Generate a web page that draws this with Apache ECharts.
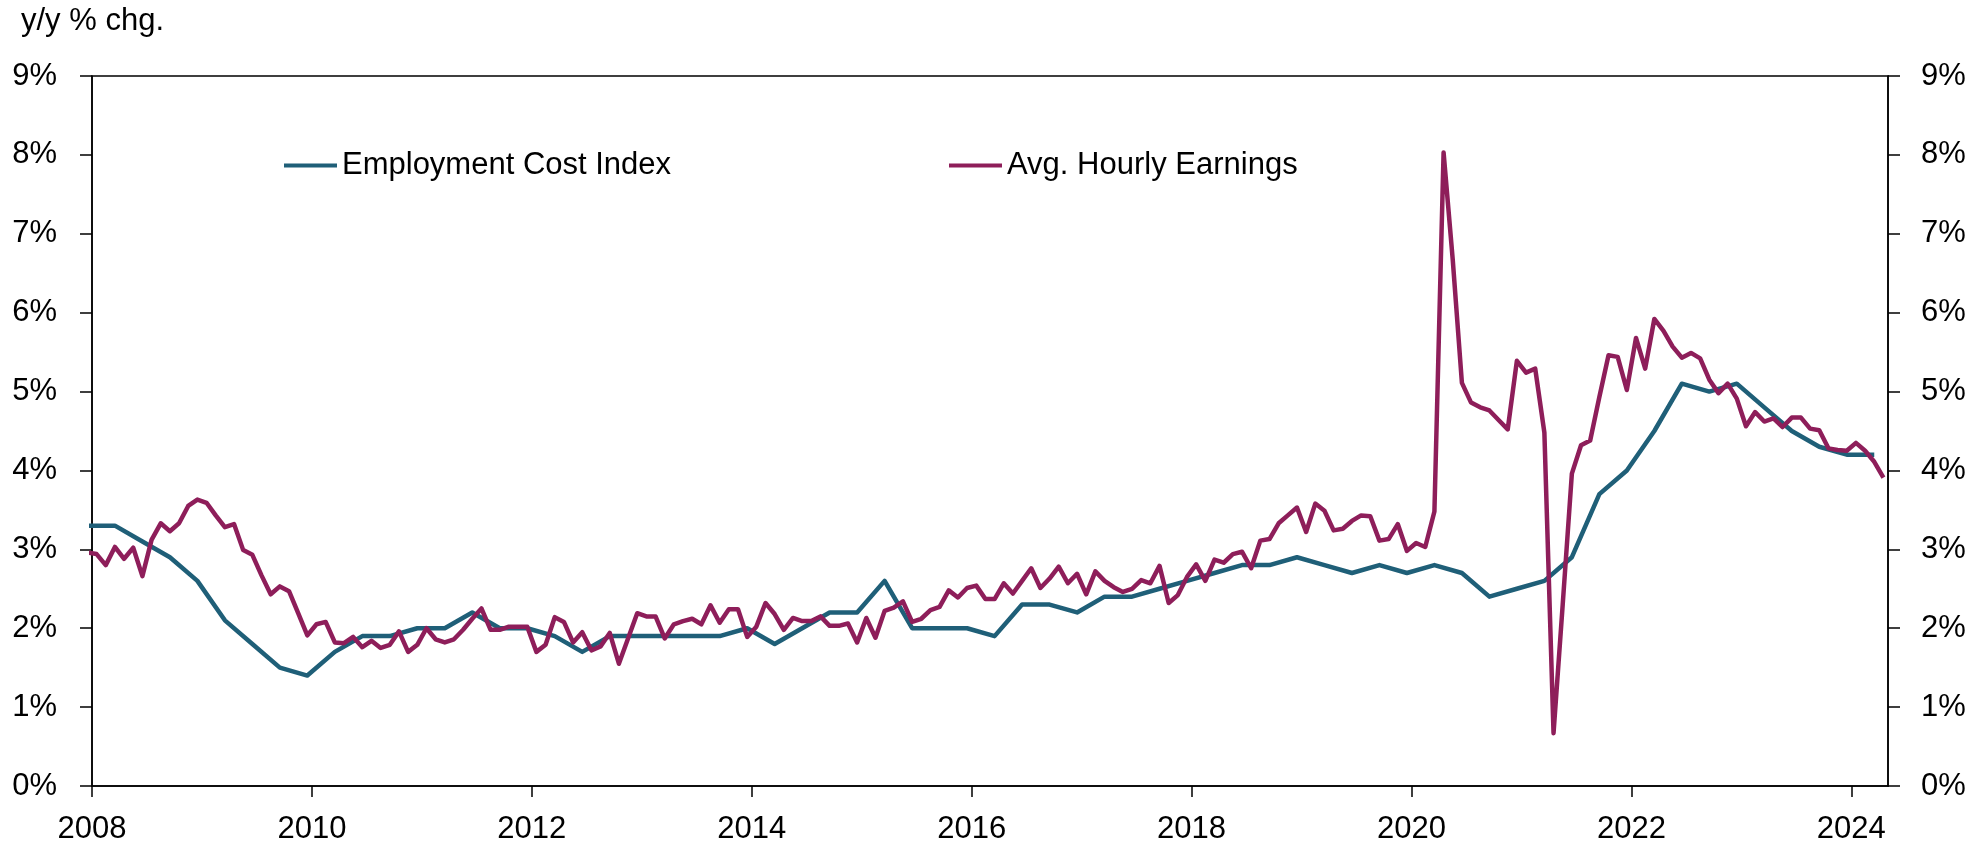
<!DOCTYPE html>
<html>
<head>
<meta charset="utf-8">
<script src="https://cdn.jsdelivr.net/npm/echarts@6/dist/echarts.min.js"></script>
<style>
  html, body { margin: 0; padding: 0; background: #ffffff; }
  #chart { width: 1983px; height: 849px; }
</style>
</head>
<body>
<div id="chart"></div>
<script>
// Avg. Hourly Earnings, y/y % chg., monthly from Dec 2007 to Apr 2024
const aheValues = [
  2.96,
  2.94, 2.80, 3.03, 2.88, 3.02, 2.66, 3.12, 3.33, 3.23, 3.33, 3.55, 3.63,
  3.59, 3.43, 3.28, 3.32, 2.99, 2.93, 2.67, 2.43, 2.53, 2.47, 2.19, 1.91,
  2.05, 2.08, 1.82, 1.81, 1.89, 1.76, 1.84, 1.75, 1.79, 1.96, 1.70, 1.79,
  2.00, 1.86, 1.82, 1.86, 1.98, 2.12, 2.25, 1.98, 1.98, 2.02, 2.02, 2.02,
  1.70, 1.79, 2.14, 2.08, 1.82, 1.95, 1.72, 1.77, 1.94, 1.55, 1.87, 2.19,
  2.15, 2.15, 1.87, 2.05, 2.09, 2.12, 2.05, 2.29, 2.07, 2.24, 2.24, 1.89,
  2.02, 2.32, 2.18, 1.98, 2.13, 2.09, 2.09, 2.15, 2.03, 2.03, 2.06, 1.82,
  2.13, 1.88, 2.22, 2.26, 2.34, 2.08, 2.12, 2.23, 2.27, 2.48, 2.39, 2.51,
  2.54, 2.37, 2.37, 2.57, 2.44, 2.60, 2.76, 2.51, 2.63, 2.78, 2.57, 2.69,
  2.43, 2.72, 2.60, 2.52, 2.46, 2.50, 2.61, 2.57, 2.79, 2.32, 2.42, 2.65,
  2.81, 2.60, 2.87, 2.83, 2.94, 2.97, 2.76, 3.11, 3.13, 3.33, 3.43, 3.53,
  3.22, 3.58, 3.49, 3.24, 3.26, 3.36, 3.43, 3.42, 3.11, 3.13, 3.32, 2.98,
  3.08, 3.03, 3.48, 8.03, 6.67, 5.11, 4.86, 4.80, 4.76, 4.64, 4.52, 5.39,
  5.24, 5.29, 4.48, 0.67, 2.30, 3.96, 4.32, 4.38, 4.93, 5.46, 5.44, 5.02,
  5.68, 5.29, 5.92, 5.77, 5.57, 5.43, 5.49, 5.42, 5.15, 4.98, 5.10, 4.91,
  4.56, 4.74, 4.62, 4.66, 4.55, 4.67, 4.67, 4.53, 4.51, 4.28, 4.26, 4.25,
  4.35, 4.25, 4.11, 3.91
];

// Employment Cost Index, y/y % chg., quarterly from Q4 2007 to Q1 2024
const eciValues = [
  3.3,
  3.3, 3.1, 2.9, 2.6,
  2.1, 1.8, 1.5, 1.4,
  1.7, 1.9, 1.9, 2.0,
  2.0, 2.2, 2.0, 2.0,
  1.9, 1.7, 1.9, 1.9,
  1.9, 1.9, 1.9, 2.0,
  1.8, 2.0, 2.2, 2.2,
  2.6, 2.0, 2.0, 2.0,
  1.9, 2.3, 2.3, 2.2,
  2.4, 2.4, 2.5, 2.6,
  2.7, 2.8, 2.8, 2.9,
  2.8, 2.7, 2.8, 2.7,
  2.8, 2.7, 2.4, 2.5,
  2.6, 2.9, 3.7, 4.0,
  4.5, 5.1, 5.0, 5.1,
  4.8, 4.5, 4.3, 4.2,
  4.2
];

const seriesNames = ['Employment Cost Index', 'Avg. Hourly Earnings'];
const yearTicks = [2008, 2010, 2012, 2014, 2016, 2018, 2020, 2022, 2024];

const startYear = 2008;          // x axis origin (Jan 2008)
const axisEndMonths = 196;       // end of Apr 2024
const aheFirstMonth = -1;        // Dec 2007
const eciFirstMonth = -1;        // Q4 2007 -> Dec 2007

const aheData = aheValues.map((v, i) => [aheFirstMonth + i + 0.5, v]);
const eciData = eciValues.map((v, i) => [eciFirstMonth + 3 * i + 0.5, v]);
const yearTickMonths = yearTicks.map(y => (y - startYear) * 12);

const FONT = '"Liberation Sans", Arial, sans-serif';
const FS = 31;
const ECI_COLOR = '#1f5f78';
const AHE_COLOR = '#8e1e5a';

const chart = echarts.init(document.getElementById('chart'), null, { renderer: 'canvas' });

const yAxisCommon = {
  type: 'value', min: 0, max: 9, interval: 1,
  splitLine: { show: false },
  axisLine: { show: true, lineStyle: { color: '#000', width: 1.5 } },
  axisTick: { show: true, inside: false, length: 12, lineStyle: { color: '#000', width: 1.5 } },
  axisLabel: { fontFamily: FONT, fontSize: FS, color: '#000', formatter: v => v + '%' }
};

chart.setOption({
  animation: false,
  backgroundColor: '#ffffff',
  textStyle: { fontFamily: FONT },
  title: {
    text: 'y/y % chg.',
    left: 21, top: 6,
    padding: 0,
    textStyle: { fontFamily: FONT, fontSize: FS, fontWeight: 'normal', color: '#000' }
  },
  grid: {
    left: 92, right: 95, top: 76, bottom: 63,
    show: true, borderColor: '#000', borderWidth: 1.5, backgroundColor: 'transparent'
  },
  legend: [
    {
      data: [seriesNames[0]],
      left: 284, top: 150, padding: 0,
      icon: 'rect', itemWidth: 53, itemHeight: 4,
      textStyle: { fontFamily: FONT, fontSize: FS, color: '#000' }
    },
    {
      data: [seriesNames[1]],
      left: 949, top: 150, padding: 0,
      icon: 'rect', itemWidth: 53, itemHeight: 4,
      textStyle: { fontFamily: FONT, fontSize: FS, color: '#000' }
    }
  ],
  xAxis: {
    type: 'value', min: 0, max: axisEndMonths, interval: 24,
    splitLine: { show: false },
    axisLine: { show: true, onZero: false, lineStyle: { color: '#000', width: 1.5 } },
    axisTick: { show: true, length: 11, customValues: yearTickMonths, lineStyle: { color: '#000', width: 1.5 } },
    axisLabel: {
      customValues: yearTickMonths,
      fontFamily: FONT, fontSize: FS, color: '#000', margin: 28,
      formatter: v => (v % 24 === 0 ? String(startYear + v / 12) : '')
    }
  },
  yAxis: [
    Object.assign({}, yAxisCommon, { position: 'left', axisLabel: Object.assign({}, yAxisCommon.axisLabel, { margin: 35 }) }),
    Object.assign({}, yAxisCommon, { position: 'right', axisLabel: Object.assign({}, yAxisCommon.axisLabel, { margin: 33 }) })
  ],
  series: [
    {
      name: seriesNames[0], type: 'line', data: eciData, yAxisIndex: 0,
      symbol: 'none', clip: true, color: ECI_COLOR,
      lineStyle: { color: ECI_COLOR, width: 4.5, join: 'round' }
    },
    {
      name: seriesNames[1], type: 'line', data: aheData, yAxisIndex: 0,
      symbol: 'none', clip: true, color: AHE_COLOR,
      lineStyle: { color: AHE_COLOR, width: 4.5, join: 'round' }
    }
  ]
});
</script>
</body>
</html>
